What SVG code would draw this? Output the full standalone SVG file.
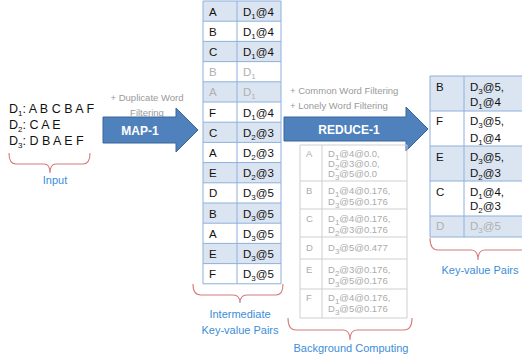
<svg xmlns="http://www.w3.org/2000/svg" width="522" height="356" viewBox="0 0 522 356">
  <style>
    text { font-family: "Liberation Sans", Arial, sans-serif; }
    .inp { font-size: 12.5px; fill: #111; }
    .cell { font-size: 11.5px; fill: #111; }
    .cell.dim { fill: #b0b0b0; }
    .sub { font-size: 8px; }
    .note { font-size: 9.5px; fill: #9a9a9a; }
    .lab { font-size: 11px; fill: #3b8ed8; text-anchor: middle; }
    .arrowtxt { font-size: 12px; font-weight: bold; fill: #fff; text-anchor: middle; }
    .bg { font-size: 9.5px; fill: #ababab; }
    .shade { fill: #dbe5f1; }
    .plain { fill: #fff; }
    .grid { stroke: #8eb0dc; stroke-width: 1; fill: none; }
    .ggrid { stroke: #cfcfcf; stroke-width: 1; fill: none; }
    .brace { stroke: #d47b7c; stroke-width: 1.1; fill: none; }
    .arrow { fill: #4f81bd; stroke: #3b659a; stroke-width: 1; }
  </style>

  <rect width="522" height="356" fill="#fff"/>

  <!-- input documents -->
  <g id="input">
    <text class="inp" x="9" y="113">D<tspan class="sub" dy="3">1</tspan><tspan dy="-3">: A B C B A F</tspan></text>
    <text class="inp" x="9" y="129">D<tspan class="sub" dy="3">2</tspan><tspan dy="-3">: C A E</tspan></text>
    <text class="inp" x="9" y="145">D<tspan class="sub" dy="3">3</tspan><tspan dy="-3">: D B A E F</tspan></text>
    <path class="brace" d="M9,153 Q9,164 16,164 L44,164 Q50,164 50,173 Q50,164 56,164 L83,164 Q90,164 90,153"/>
    <text class="lab" x="55" y="184">Input</text>
  </g>

  <g id="connectors">
    <!-- MAP-1 arrow -->
    <g id="map1">
      <text class="note" x="147" y="101" text-anchor="middle">+ Duplicate Word</text>
      <text class="note" x="147" y="116" text-anchor="middle">Filtering</text>
      <polygon class="arrow" points="103,117 176,117 176,108 198,130 176,152 176,143 103,143"/>
      <text class="arrowtxt" x="140" y="134.5">MAP-1</text>
    </g>
    <!-- REDUCE-1 arrow -->
    <g id="reduce1">
      <text class="note" x="290" y="94" font-size="10px">+ Common Word Filtering</text>
      <text class="note" x="290" y="109" font-size="10px">+ Lonely Word Filtering</text>
      <polygon class="arrow" points="284,117 406,117 406,107 428,129 406,151 406,141 284,141"/>
      <text class="arrowtxt" x="349" y="133.5">REDUCE-1</text>
    </g>
  </g>

  <!-- intermediate key-value pairs -->
  <g id="intermediate">
    <rect class="shade" x="203" y="1" width="78" height="20.2"/>
    <rect class="shade" x="203" y="41.4" width="78" height="20.2"/>
    <rect class="shade" x="203" y="81.8" width="78" height="20.2"/>
    <rect class="shade" x="203" y="122.2" width="78" height="20.2"/>
    <rect class="shade" x="203" y="162.6" width="78" height="20.2"/>
    <rect class="shade" x="203" y="203" width="78" height="20.2"/>
    <rect class="shade" x="203" y="243.4" width="78" height="20.2"/>
    <path class="grid" d="M203,1 H281 V283.8 H203 Z M237,1 V283.8
      M203,21.2 H281 M203,41.4 H281 M203,61.6 H281 M203,81.8 H281 M203,102 H281
      M203,122.2 H281 M203,142.4 H281 M203,162.6 H281 M203,182.8 H281 M203,203 H281
      M203,223.2 H281 M203,243.4 H281 M203,263.6 H281"/>
    <g>
      <text class="cell" x="209" y="15.5">A</text><text class="cell" x="243" y="15.5">D<tspan class="sub" dy="3">1</tspan><tspan dy="-3">@4</tspan></text>
      <text class="cell" x="209" y="35.7">B</text><text class="cell" x="243" y="35.7">D<tspan class="sub" dy="3">1</tspan><tspan dy="-3">@4</tspan></text>
      <text class="cell" x="209" y="55.9">C</text><text class="cell" x="243" y="55.9">D<tspan class="sub" dy="3">1</tspan><tspan dy="-3">@4</tspan></text>
      <text class="cell dim" x="209" y="76.1">B</text><text class="cell dim" x="243" y="76.1">D<tspan class="sub" dy="3">1</tspan></text>
      <text class="cell dim" x="209" y="96.3">A</text><text class="cell dim" x="243" y="96.3">D<tspan class="sub" dy="3">1</tspan></text>
      <text class="cell" x="209" y="116.5">F</text><text class="cell" x="243" y="116.5">D<tspan class="sub" dy="3">1</tspan><tspan dy="-3">@4</tspan></text>
      <text class="cell" x="209" y="136.7">C</text><text class="cell" x="243" y="136.7">D<tspan class="sub" dy="3">2</tspan><tspan dy="-3">@3</tspan></text>
      <text class="cell" x="209" y="156.9">A</text><text class="cell" x="243" y="156.9">D<tspan class="sub" dy="3">2</tspan><tspan dy="-3">@3</tspan></text>
      <text class="cell" x="209" y="177.1">E</text><text class="cell" x="243" y="177.1">D<tspan class="sub" dy="3">2</tspan><tspan dy="-3">@3</tspan></text>
      <text class="cell" x="209" y="197.3">D</text><text class="cell" x="243" y="197.3">D<tspan class="sub" dy="3">3</tspan><tspan dy="-3">@5</tspan></text>
      <text class="cell" x="209" y="217.5">B</text><text class="cell" x="243" y="217.5">D<tspan class="sub" dy="3">3</tspan><tspan dy="-3">@5</tspan></text>
      <text class="cell" x="209" y="237.7">A</text><text class="cell" x="243" y="237.7">D<tspan class="sub" dy="3">3</tspan><tspan dy="-3">@5</tspan></text>
      <text class="cell" x="209" y="257.9">E</text><text class="cell" x="243" y="257.9">D<tspan class="sub" dy="3">3</tspan><tspan dy="-3">@5</tspan></text>
      <text class="cell" x="209" y="278.1">F</text><text class="cell" x="243" y="278.1">D<tspan class="sub" dy="3">3</tspan><tspan dy="-3">@5</tspan></text>
    </g>
    <path class="brace" d="M193,284 Q193,295 201,295 L233,295 Q240,295 240,303 Q240,295 247,295 L276,295 Q283,295 283,284"/>
    <text class="lab" x="240" y="318">Intermediate</text>
    <text class="lab" x="240" y="334">Key-value Pairs</text>
  </g>

  <!-- background computing table -->
  <g id="background">
    <path class="ggrid" d="M300,145 H407 V318 H300 Z M322,145 V318
      M300,181 H407 M300,209 H407 M300,237 H407 M300,259 H407 M300,289 H407"/>
    <text class="bg" x="306" y="157">A</text>
    <text class="bg" x="328" y="157">D<tspan class="sub" dy="2.5">1</tspan><tspan dy="-2.5">@4@0.0,</tspan></text>
    <text class="bg" x="328" y="167">D<tspan class="sub" dy="2.5">2</tspan><tspan dy="-2.5">@3@0.0,</tspan></text>
    <text class="bg" x="328" y="177">D<tspan class="sub" dy="2.5">3</tspan><tspan dy="-2.5">@5@0.0</tspan></text>
    <text class="bg" x="306" y="194">B</text>
    <text class="bg" x="328" y="194">D<tspan class="sub" dy="2.5">1</tspan><tspan dy="-2.5">@4@0.176,</tspan></text>
    <text class="bg" x="328" y="205">D<tspan class="sub" dy="2.5">3</tspan><tspan dy="-2.5">@5@0.176</tspan></text>
    <text class="bg" x="306" y="222">C</text>
    <text class="bg" x="328" y="222">D<tspan class="sub" dy="2.5">1</tspan><tspan dy="-2.5">@4@0.176,</tspan></text>
    <text class="bg" x="328" y="233">D<tspan class="sub" dy="2.5">2</tspan><tspan dy="-2.5">@3@0.176</tspan></text>
    <text class="bg" x="306" y="251">D</text>
    <text class="bg" x="328" y="251">D<tspan class="sub" dy="2.5">3</tspan><tspan dy="-2.5">@5@0.477</tspan></text>
    <text class="bg" x="306" y="273">E</text>
    <text class="bg" x="328" y="273">D<tspan class="sub" dy="2.5">2</tspan><tspan dy="-2.5">@3@0.176,</tspan></text>
    <text class="bg" x="328" y="284">D<tspan class="sub" dy="2.5">3</tspan><tspan dy="-2.5">@5@0.176</tspan></text>
    <text class="bg" x="306" y="301">F</text>
    <text class="bg" x="328" y="301">D<tspan class="sub" dy="2.5">1</tspan><tspan dy="-2.5">@4@0.176,</tspan></text>
    <text class="bg" x="328" y="312">D<tspan class="sub" dy="2.5">3</tspan><tspan dy="-2.5">@5@0.176</tspan></text>
    <path class="brace" d="M288,318 Q288,330 296,330 L343,330 Q350,330 350,340 Q350,330 357,330 L404,330 Q412,330 412,318"/>
    <text class="lab" x="351" y="352">Background Computing</text>
  </g>

  <!-- final key-value pairs -->
  <g id="result">
    <rect class="shade" x="430" y="76" width="110" height="35"/>
    <rect class="shade" x="430" y="146" width="110" height="35"/>
    <rect class="shade" x="430" y="216" width="110" height="21"/>
    <path class="grid" d="M430,76 H540 M430,111 H540 M430,146 H540 M430,181 H540 M430,216 H540 M430,237 H540
      M430,76 V237 M464,76 V237"/>
    <text class="cell" x="436" y="91">B</text>
    <text class="cell" x="470" y="91">D<tspan class="sub" dy="3">3</tspan><tspan dy="-3">@5,</tspan></text>
    <text class="cell" x="470" y="106">D<tspan class="sub" dy="3">1</tspan><tspan dy="-3">@4</tspan></text>
    <text class="cell" x="436" y="125">F</text>
    <text class="cell" x="470" y="125">D<tspan class="sub" dy="3">3</tspan><tspan dy="-3">@5,</tspan></text>
    <text class="cell" x="470" y="142">D<tspan class="sub" dy="3">1</tspan><tspan dy="-3">@4</tspan></text>
    <text class="cell" x="436" y="161">E</text>
    <text class="cell" x="470" y="161">D<tspan class="sub" dy="3">3</tspan><tspan dy="-3">@5,</tspan></text>
    <text class="cell" x="470" y="177">D<tspan class="sub" dy="3">2</tspan><tspan dy="-3">@3</tspan></text>
    <text class="cell" x="436" y="196">C</text>
    <text class="cell" x="470" y="196">D<tspan class="sub" dy="3">1</tspan><tspan dy="-3">@4,</tspan></text>
    <text class="cell" x="470" y="210">D<tspan class="sub" dy="3">2</tspan><tspan dy="-3">@3</tspan></text>
    <text class="cell dim" x="436" y="230">D</text>
    <text class="cell dim" x="470" y="230">D<tspan class="sub" dy="3">3</tspan><tspan dy="-3">@5</tspan></text>
    <path class="brace" d="M430,238 Q430,250 438,250 L471,250 Q478,250 478,260 Q478,250 485,250 L530,250"/>
    <text class="lab" x="480" y="274">Key-value Pairs</text>
  </g>
</svg>
